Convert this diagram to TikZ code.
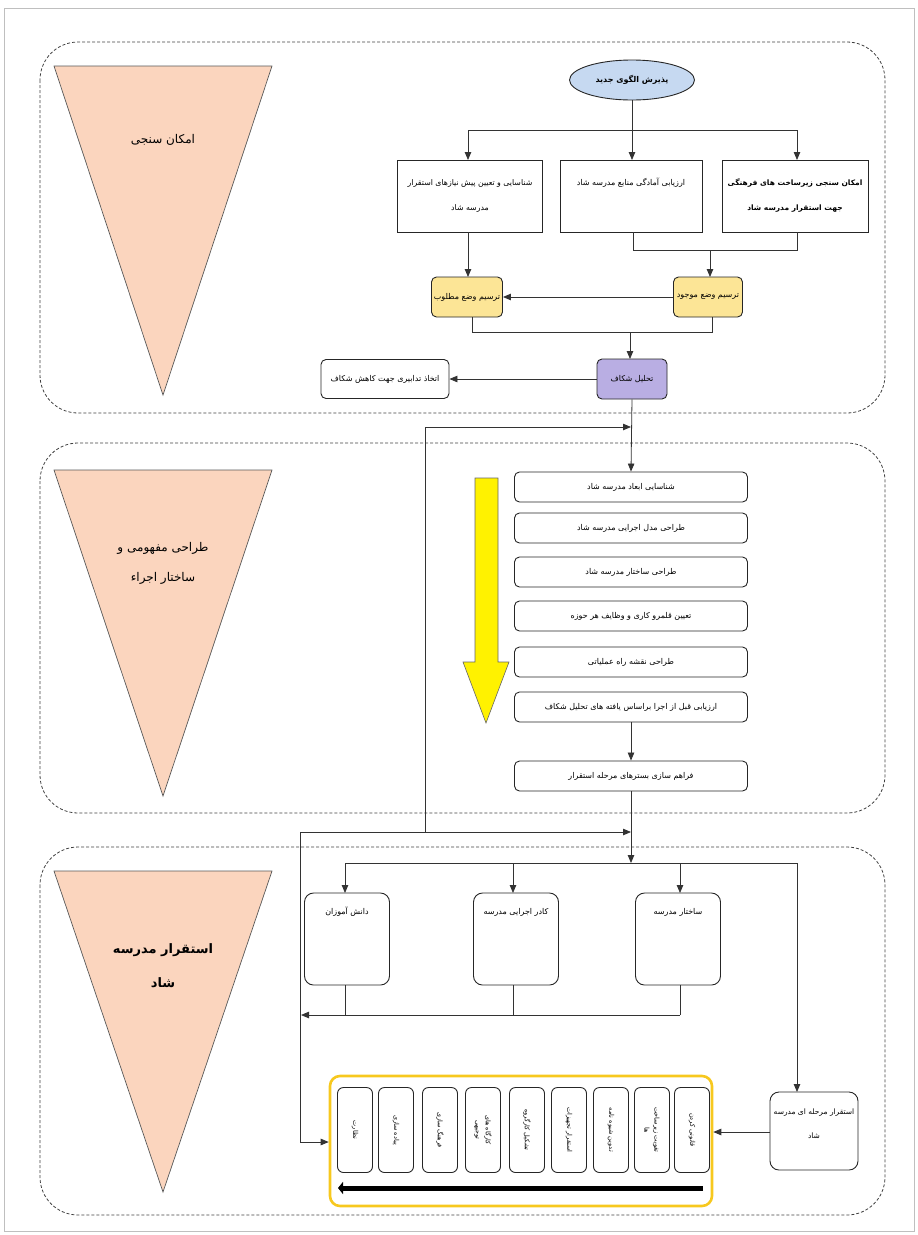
\documentclass[tikz,border=0pt]{standalone}
\usepackage{fontspec}
\newfontfamily\arabicfont[Script=Arabic]{DejaVu Sans}
\TeXXeTstate=1
\usetikzlibrary{shapes.geometric,arrows.meta}
\newcommand\fatxt[1]{{\arabicfont\beginR #1\endR}}
\definecolor{peach}{HTML}{FBD5BE}
\definecolor{ellblue}{HTML}{C6D9F1}
\definecolor{ylbox}{HTML}{FCE596}
\definecolor{purp}{HTML}{B9AEE3}
\definecolor{gold}{HTML}{F7C81E}
\begin{document}
\begin{tikzpicture}[x=1pt,y=-1pt,
  every node/.style={font=\fontsize{8}{12}\selectfont, inner sep=2pt},
  ln/.style={draw=black!80, line width=0.8pt},
  arr/.style={ln, -{Triangle[length=8pt,width=6.5pt]}},
  sect/.style={draw=black!75, dash pattern=on 3pt off 2pt, line width=0.8pt, rounded corners=38pt},
  tri/.style={draw=black!65, fill=peach, line width=0.7pt},
  sq/.style={draw=black!85, line width=0.9pt, fill=white},
  rb/.style={sq, rounded corners=5pt},
  lbox/.style={rb, minimum width=233pt, minimum height=30pt},
  vbox/.style={rb, rotate=-90, minimum width=85pt, minimum height=35pt, align=center, rounded corners=6pt, font=\fontsize{6.5}{10}\selectfont},
  tbox/.style={rb, rounded corners=9pt, minimum width=85pt, minimum height=92pt}
]
\useasboundingbox (0,0) rectangle (918,1235);
\draw[black!25, line width=0.5pt] (4,8) rectangle (914,1231);

% sections
\draw[sect] (40,42) rectangle (885,413);
\draw[sect] (40,443) rectangle (885,813);
\draw[sect] (40,847) rectangle (885,1215);

% triangles
\draw[tri] (54,66) -- (272,66) -- (163,395) -- cycle;
\draw[tri] (54,470) -- (272,470) -- (163,796) -- cycle;
\draw[tri] (54,871) -- (272,871) -- (163,1192) -- cycle;
\node[font=\fontsize{12}{16}\selectfont] (t1) at (163,140) {\fatxt{امکان سنجی}};
\node[font=\fontsize{12}{30}\selectfont, align=center] (t2) at (163,563) {\fatxt{طراحی مفهومی و}\\\fatxt{ساختار اجراء}};
\node[font=\bfseries\fontsize{13}{34}\selectfont, align=center] (t3) at (163,966) {\fatxt{استقرار مدرسه}\\\fatxt{شاد}};

% ---- section 1
\node[ellipse, draw=black!85, line width=0.9pt, fill=ellblue, minimum width=125pt, minimum height=40pt, font=\bfseries\fontsize{8}{12}\selectfont] (start) at (632,80) {\fatxt{پذیرش الگوی جدید}};
\node[sq, minimum width=146pt, minimum height=72pt] (b1) at (795,196) {};
\node[align=center, font=\bfseries\fontsize{7.5}{25}\selectfont] at (795,196) {\fatxt{امکان سنجی زیرساخت های فرهنگی}\\\fatxt{جهت استقرار مدرسه شاد}};
\node[sq, minimum width=142pt, minimum height=72pt] (b2) at (631,196) {};
\node at (631,183) {\fatxt{ارزیابی آمادگی منابع مدرسه شاد}};
\node[sq, minimum width=145pt, minimum height=72pt] (b3) at (470,196) {};
\node[align=center, font=\fontsize{7.8}{25}\selectfont] at (470,196) {\fatxt{شناسایی و تعیین پیش نیازهای استقرار}\\\fatxt{مدرسه شاد}};

\coordinate (s1) at (632,130);
\coordinate (h1l) at (468,130);
\coordinate (h1r) at (797,130);
\draw[ln] (start.south) -- (s1);
\draw[ln] (h1l) -- (h1r);
\draw[arr] (h1l) -- (468,160);
\draw[arr] (s1) -- (632,160);
\draw[arr] (h1r) -- (797,160);

\node[rb, fill=ylbox, minimum width=71pt, minimum height=40pt] (yl) at (467,297) {\fatxt{ترسیم وضع مطلوب}};
\node[rb, fill=ylbox, minimum width=69pt, minimum height=40pt] (yr) at (708,297) {\fatxt{ترسیم وضع موجود}};

\coordinate (j2m) at (633,250);
\coordinate (j2r) at (797,250);
\coordinate (j2a) at (710,250);
\draw[ln] (633,232) -- (j2m) -- (j2r) -- (797,232);
\draw[arr] (j2a) -- (710,277);
\draw[arr] (468,232) -- (468,277);
\draw[arr] (yr.west) -- (yl.east);

\coordinate (j3l) at (472,332);
\coordinate (j3r) at (712,332);
\coordinate (j3a) at (630,332);
\draw[ln] (472,317) -- (j3l) -- (j3r) -- (712,317);

\node[rb, fill=purp, minimum width=70pt, minimum height=40pt] (gap) at (632,379) {\fatxt{تحلیل شکاف}};
\node[rb, minimum width=128pt, minimum height=39pt] (act) at (385,379) {\fatxt{اتخاذ تدابیری جهت کاهش شکاف}};
\draw[arr] (j3a) -- (630,359);
\draw[arr] (gap.west) -- (act.east);

% ---- section 2
\draw[draw=black!60, fill=yellow, line width=0.6pt] (475,478) -- (498,478) -- (498,662) -- (509,662) -- (486,723) -- (463,662) -- (475,662) -- cycle;

\node[lbox] (l1) at (631,487) {\fatxt{شناسایی ابعاد مدرسه شاد}};
\node[lbox] (l2) at (631,528) {\fatxt{طراحی مدل اجرایی مدرسه شاد}};
\node[lbox] (l3) at (631,572) {\fatxt{طراحی ساختار مدرسه شاد}};
\node[lbox] (l4) at (631,616) {\fatxt{تعیین قلمرو کاری و وظایف هر حوزه}};
\node[lbox] (l5) at (631,662) {\fatxt{طراحی نقشه راه عملیاتی}};
\node[lbox] (l6) at (631,707) {\fatxt{ارزیابی قبل از اجرا براساس یافته های تحلیل شکاف}};
\node[lbox] (l7) at (631,776) {\fatxt{فراهم سازی بسترهای مرحله استقرار}};

\draw[arr] (gap.south) -- (l1.north);
\draw[arr] (l6.south) -- (l7.north);

% feedback lines
\coordinate (fb1) at (425,427);
\coordinate (fb1e) at (631,427);
\coordinate (fb2) at (425,832);
\coordinate (fl) at (300,832);
\coordinate (fle) at (631,832);
\coordinate (flb) at (300,1142);
\draw[arr] (fb2) -- (fb1) -- (fb1e);
\draw[arr] (flb) -- (fl) -- (fle);

% ---- section 3
\coordinate (h3c) at (631,863);
\coordinate (h3l) at (345,863);
\coordinate (h3r) at (797,863);
\draw[arr] (l7.south) -- (h3c);
\draw[ln] (h3l) -- (h3r);

\node[tbox] (d1) at (347,939) {};
\node at (347,912) {\fatxt{دانش آموزان}};
\node[tbox] (d2) at (516,939) {};
\node at (516,912) {\fatxt{کادر اجرایی مدرسه}};
\node[tbox] (d3) at (678,939) {};
\node at (678,912) {\fatxt{ساختار مدرسه}};

\draw[arr] (h3l) -- (345,893);
\draw[arr] (513,863) -- (513,893);
\draw[arr] (680,863) -- (680,893);

\coordinate (b3r) at (680,1015);
\coordinate (b3l) at (301,1015);
\draw[ln] (345,985) -- (345,1015);
\draw[ln] (513,985) -- (513,1015);
\draw[ln] (680,985) -- (b3r);
\draw[arr] (b3r) -- (b3l);

\node[rb, rounded corners=9pt, minimum width=88pt, minimum height=78pt] (st) at (814,1131) {};
\node[align=center, font=\fontsize{7.5}{24}\selectfont] at (814,1124) {\fatxt{استقرار مرحله ای مدرسه}\\\fatxt{شاد}};
\draw[arr] (h3r) -- (797,1092);

\node[draw=gold, line width=2.6pt, rounded corners=10pt, minimum width=382pt, minimum height=130pt] (cont) at (521,1141) {};
\draw[arr] (st.west |- 0,1132) -- (cont.east |- 0,1132);
\draw[arr] (flb) -- (cont.west |- flb);

\node[vbox] (v1) at (692,1130) {\fatxt{قانونی کردن}};
\node[vbox] (v2) at (652,1130) {\fatxt{تقویت زیرساخت}\\\fatxt{ها}};
\node[vbox] (v3) at (611,1130) {\fatxt{تدوین شیوه نامه}};
\node[vbox] (v4) at (569,1130) {\fatxt{استقرار تجهیزات}};
\node[vbox] (v5) at (527,1130) {\fatxt{تشکیل کارگروه}};
\node[vbox] (v6) at (483,1130) {\fatxt{کارگاه های}\\\fatxt{توجیهی}};
\node[vbox] (v7) at (440,1130) {\fatxt{فرهنگ سازی}};
\node[vbox] (v8) at (396,1130) {\fatxt{پیاده سازی}};
\node[vbox] (v9) at (355,1130) {\fatxt{نظارت}};

\coordinate (ba1) at (703,1188);
\coordinate (ba2) at (338,1188);
\draw[line width=5pt, -{Triangle[length=5pt,width=12pt]}] (ba1) -- (ba2);
\end{tikzpicture}
\end{document}
